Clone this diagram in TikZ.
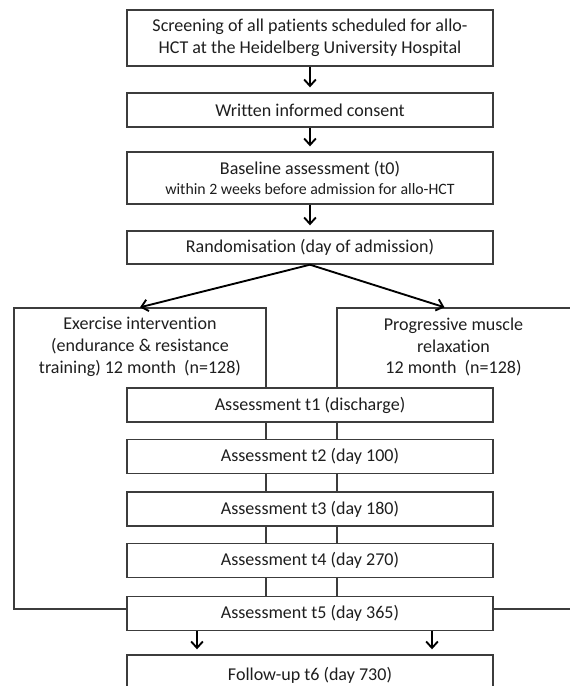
\documentclass[tikz,border=0pt]{standalone}
\usepackage{fontspec}
\setmainfont[Ligatures=NoCommon]{Carlito}
\usepackage{xcolor}
\usepackage{tikz}
\usetikzlibrary{arrows.meta, positioning}
\definecolor{boxline}{RGB}{60, 60, 60}
\definecolor{inktext}{RGB}{30, 30, 30}
\newcommand{\mainfs}{\fontsize{15.4}{18.6}\selectfont}
\newcommand{\smallfs}{\fontsize{13.5}{15}\selectfont}

\begin{document}
\begin{tikzpicture}[
  x=0.03cm, y=-0.03cm,
  >=Straight Barb,
  stage/.style={
    rectangle, draw=boxline, fill=white, line width=1.2pt,
    minimum width=10.98cm, minimum height=#1, inner sep=0pt,
    font=\mainfs, text=inktext, align=center
  },
  stage/.default=1.02cm,
  arm/.style={rectangle, draw=boxline, line width=1.2pt, inner sep=0pt},
  armtext/.style={font=\mainfs, text=inktext, align=center, inner sep=0pt},
  flow/.style={-{Straight Barb[length=5.5pt, width=10pt]}, line width=1.6pt, shorten >=0.15cm},
  split/.style={-{Straight Barb[length=5.5pt, width=10pt]}, line width=1.6pt},
]

\useasboundingbox (0, 0) rectangle (570, 686);
\clip (0, 0) rectangle (570, 686);

\def\colM{310}
\def\colL{140}
\def\colR{454.5}

% Study arms (drawn first, the assessments sit on top)
\node[arm, minimum width=7.56cm, minimum height=9.03cm] (exer)  at (\colL, 458.5) {};
\node[arm, minimum width=7.05cm, minimum height=9.03cm] (relax) at (\colR, 458.5) {};
\node[armtext] (exerT)  at (\colL, 347) {Exercise intervention\\(endurance \& resistance\\training) 12 month~ (n=128)};
\node[armtext] (relaxT) at (453.5, 347) {Progressive muscle\\relaxation\\12 month~ (n=128)};

% Enrolment
\node[stage=1.68cm] (screen)  at (\colM, 38)    {Screening of all patients scheduled for allo-\\HCT at the Heidelberg University Hospital};
\node[stage]        (consent) at (\colM, 110)   {Written informed consent};
\node[stage=1.56cm] (base)    at (\colM, 178)   {Baseline assessment (t0)\\[-1pt]{\smallfs within 2 weeks before admission for allo-HCT}};
\node[stage=0.99cm] (random)  at (\colM, 247.5) {Randomisation (day of admission)};

% Assessments
\node[stage] (tA) at (\colM, 405)   {Assessment t1 (discharge)};
\node[stage] (tB) at (\colM, 456.5) {Assessment t2 (day 100)};
\node[stage] (tC) at (\colM, 509)   {Assessment t3 (day 180)};
\node[stage] (tD) at (\colM, 560.5) {Assessment t4 (day 270)};
\node[stage] (tE) at (\colM, 613.5) {Assessment t5 (day 365)};
\node[stage=1.2cm] (follow) at (\colM, 675) {Follow-up t6 (day 730)};

% Arrows
\draw[flow] (screen) -- (consent);
\draw[flow] (consent) -- (base);
\draw[flow] (base) -- (random);
\draw[split] (random.south) -- (exer.north);
\draw[split] (random.south) -- ([xshift=-0.3cm]relax.north);
\draw[flow] ([xshift=-3.39cm]tE.south) -- ([xshift=-3.39cm]follow.north);
\draw[flow] ([xshift=3.66cm]tE.south) -- ([xshift=3.66cm]follow.north);

\end{tikzpicture}
\end{document}
